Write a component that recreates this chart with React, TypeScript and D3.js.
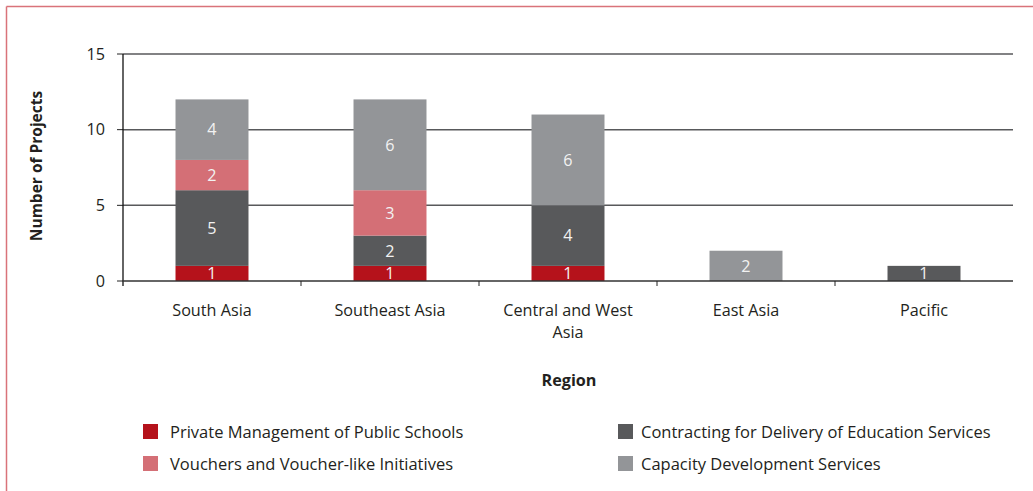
import React from "react";
import * as d3 from "d3";

const categories = ["South Asia", "Southeast Asia", "Central and West Asia", "East Asia", "Pacific"];
const categoryLines = [["South Asia"], ["Southeast Asia"], ["Central and West", "Asia"], ["East Asia"], ["Pacific"]];
const seriesNames = [
  "Private Management of Public Schools",
  "Contracting for Delivery of Education Services",
  "Vouchers and Voucher-like Initiatives",
  "Capacity Development Services",
];
const privateMgmt = [1, 1, 1, 0, 0];
const contracting = [5, 2, 4, 0, 1];
const vouchers = [2, 3, 0, 0, 0];
const capacity = [4, 6, 6, 2, 0];
const seriesColors = ["#b5121b", "#58595b", "#d46f76", "#939598"];
const yTicks = [0, 5, 10, 15];

const W = 1033;
const H = 491;
const FONT = "'Open Sans', sans-serif";
const FS = 16.2;

export default function App() {
  const left = 123, right = 1013, top = 54, bottom = 281;
  const x = d3.scaleBand<string>().domain(categories).range([left, right]).paddingInner(0.59).paddingOuter(0.295);
  const y = d3.scaleLinear().domain([0, 15]).range([bottom, top]);
  const seriesValues = [privateMgmt, contracting, vouchers, capacity];
  const rows = categories.map((c, i) => ({
    cat: c,
    s0: privateMgmt[i], s1: contracting[i], s2: vouchers[i], s3: capacity[i],
  }));
  const stack = d3.stack<any>().keys(["s0", "s1", "s2", "s3"]);
  const stacked = stack(rows);
  const step = (right - left) / categories.length;
  const boundaries = d3.range(categories.length + 1).map((i) => left + i * step);

  const legendPos = [
    { x: 143, y: 424, tx: 170 },
    { x: 618, y: 424, tx: 641 },
    { x: 143, y: 456, tx: 170 },
    { x: 618, y: 456, tx: 641 },
  ];

  return (
    <svg width={W} height={H} style={{ position: "absolute", left: 0, top: 0 }} fontFamily={FONT}>
      <rect x={0} y={0} width={W} height={H} fill="#fff" />
      <line x1={6.5} y1={6.5} x2={W} y2={6.5} stroke="#d9737a" strokeWidth={1.5} />
      <line x1={6.5} y1={6.5} x2={6.5} y2={H} stroke="#d9737a" strokeWidth={1.5} />

      {yTicks.filter((t) => t > 0).map((t) => (
        <line key={"g" + t} x1={left} x2={right} y1={y(t)} y2={y(t)} stroke="#58595b" strokeWidth={1.5} />
      ))}
      {yTicks.map((t) => (
        <g key={"t" + t}>
          <line x1={117} x2={left} y1={y(t)} y2={y(t)} stroke="#222" strokeWidth={1} />
          <text x={105} y={y(t)} dy="0.35em" textAnchor="end" fontSize={FS} fill="#231f20">{t}</text>
        </g>
      ))}

      {stacked.map((layer, si) => (
        <g key={"s" + si}>
          {layer.map((d, ci) => {
            const v = seriesValues[si][ci];
            if (!v) return null;
            const y0 = y(d[0]);
            const y1 = y(d[1]);
            const bx = x(categories[ci])!;
            return (
              <g key={ci}>
                <rect x={bx} y={y1} width={x.bandwidth()} height={y0 - y1} fill={seriesColors[si]} />
                <text x={bx + x.bandwidth() / 2} y={(y0 + y1) / 2} dy="0.36em" textAnchor="middle" fontSize={FS} fill="#f2f2f2">{v}</text>
              </g>
            );
          })}
        </g>
      ))}

      <line x1={left} x2={left} y1={top} y2={bottom + 5} stroke="#111" strokeWidth={1.3} />
      <line x1={left} x2={right} y1={bottom} y2={bottom} stroke="#333" strokeWidth={1.5} />
      {boundaries.slice(1, -1).map((bx, i) => (
        <line key={"xt" + i} x1={bx} x2={bx} y1={bottom} y2={bottom + 5} stroke="#222" strokeWidth={1} />
      ))}

      {categoryLines.map((lines, i) => (
        <text key={"xl" + i} x={x(categories[i])! + x.bandwidth() / 2} y={316} textAnchor="middle" fontSize={FS} fill="#231f20">
          {lines.map((l, j) => (
            <tspan key={j} x={x(categories[i])! + x.bandwidth() / 2} dy={j === 0 ? 0 : 22}>{l}</tspan>
          ))}
        </text>
      ))}

      <text x={569} y={386} textAnchor="middle" fontSize={FS} fontWeight="bold" fill="#231f20">Region</text>
      <text transform={`translate(42,166) rotate(-90)`} textAnchor="middle" fontSize={15.5} fontWeight="bold" fill="#231f20">Number of Projects</text>

      {seriesNames.map((n, i) => (
        <g key={"lg" + i}>
          <rect x={legendPos[i].x} y={legendPos[i].y} width={15} height={15} fill={seriesColors[i]} />
          <text x={legendPos[i].tx} y={legendPos[i].y + 8} dy="0.35em" fontSize={16.5} fill="#231f20">{n}</text>
        </g>
      ))}
    </svg>
  );
}
